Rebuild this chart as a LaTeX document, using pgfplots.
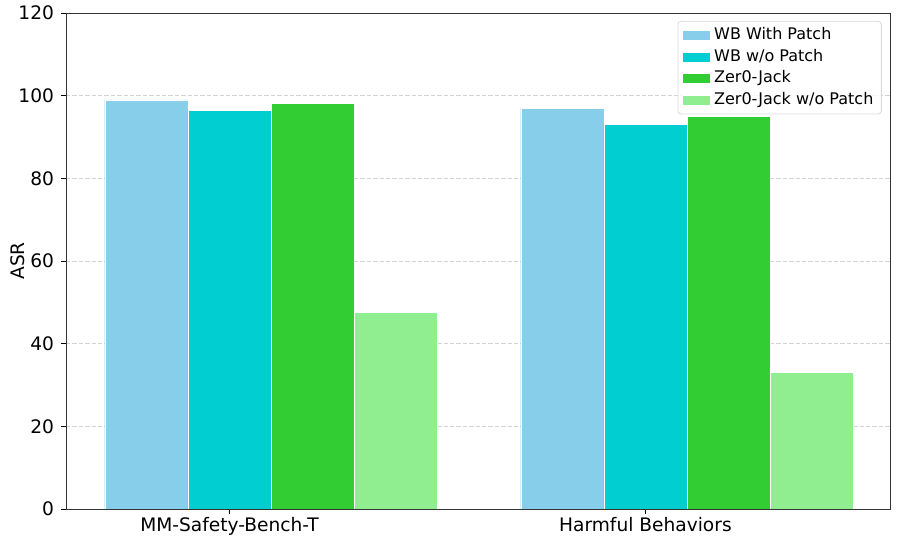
\documentclass[border=0pt]{standalone}
\usepackage{fontspec}
\setmainfont{DejaVu Sans}
\usepackage{pgfplots}
\pgfplotsset{compat=1.18}

\definecolor{skyblue}{HTML}{87CEEB}
\definecolor{darkturq}{HTML}{00CED1}
\definecolor{limegr}{HTML}{32CD32}
\definecolor{lightgr}{HTML}{90EE90}

\begin{document}
\begin{tikzpicture}
\begin{axis}[
  scale only axis,
  width=412pt, height=248pt,
  xmin=-0.393, xmax=1.588,
  ymin=0, ymax=120,
  ytick={0,20,...,120},
  xtick={0,1},
  xticklabels={MM-Safety-Bench-T, Harmful Behaviors},
  tick align=outside,
  major tick length=2.5pt,
  tick style={black, line width=0.4pt},
  axis line style={black!80, line width=0.45pt},
  ticklabel style={font=\fontsize{9.3}{11}\selectfont},
  xticklabel style={yshift=2pt},
  /pgf/number format/assume math mode=true,
  xtick pos=bottom, ytick pos=left,
  ymajorgrids,
  grid style={gray!35, dash pattern=on 2.2pt off 1pt, line width=0.35pt},
  ylabel={ASR},
  every axis y label/.style={at={(axis description cs:-0.058,0.5)}, rotate=90, anchor=center, font=\fontsize{9.3}{11}\selectfont},
  ybar, bar width=0.2, bar shift=0pt,
  every axis plot/.append style={draw=white, line width=0.12pt},
  legend cell align=left,
  legend image code/.code={\fill[#1, sharp corners, fill opacity=1] (0pt,-2.5pt) rectangle (14pt,2.5pt);},
  legend style={at={(0.990,0.984)}, anchor=north east, font=\fontsize{8}{9}\selectfont,
    draw=gray!30, rounded corners=1.5pt, fill=white, fill opacity=0.8, text opacity=1,
    inner xsep=2pt, inner ysep=1.2pt, row sep=-0.8pt},
]
\addplot[fill=skyblue] coordinates {(-0.2,99.0) (0.8,97.0)};
\addplot[fill=darkturq] coordinates {(0.0,96.4) (1.0,93.0)};
\addplot[fill=limegr] coordinates {(0.2,98.2) (1.2,95.0)};
\addplot[fill=lightgr] coordinates {(0.4,47.6) (1.4,33.0)};
\legend{WB With Patch, WB w/o Patch, Zer0-Jack, Zer0-Jack w/o Patch}
\end{axis}
\pgfresetboundingbox
\path ([xshift=-33pt,yshift=-14.5pt]current axis.south west) rectangle ([xshift=3.5pt,yshift=6.5pt]current axis.north east);
\end{tikzpicture}
\end{document}
